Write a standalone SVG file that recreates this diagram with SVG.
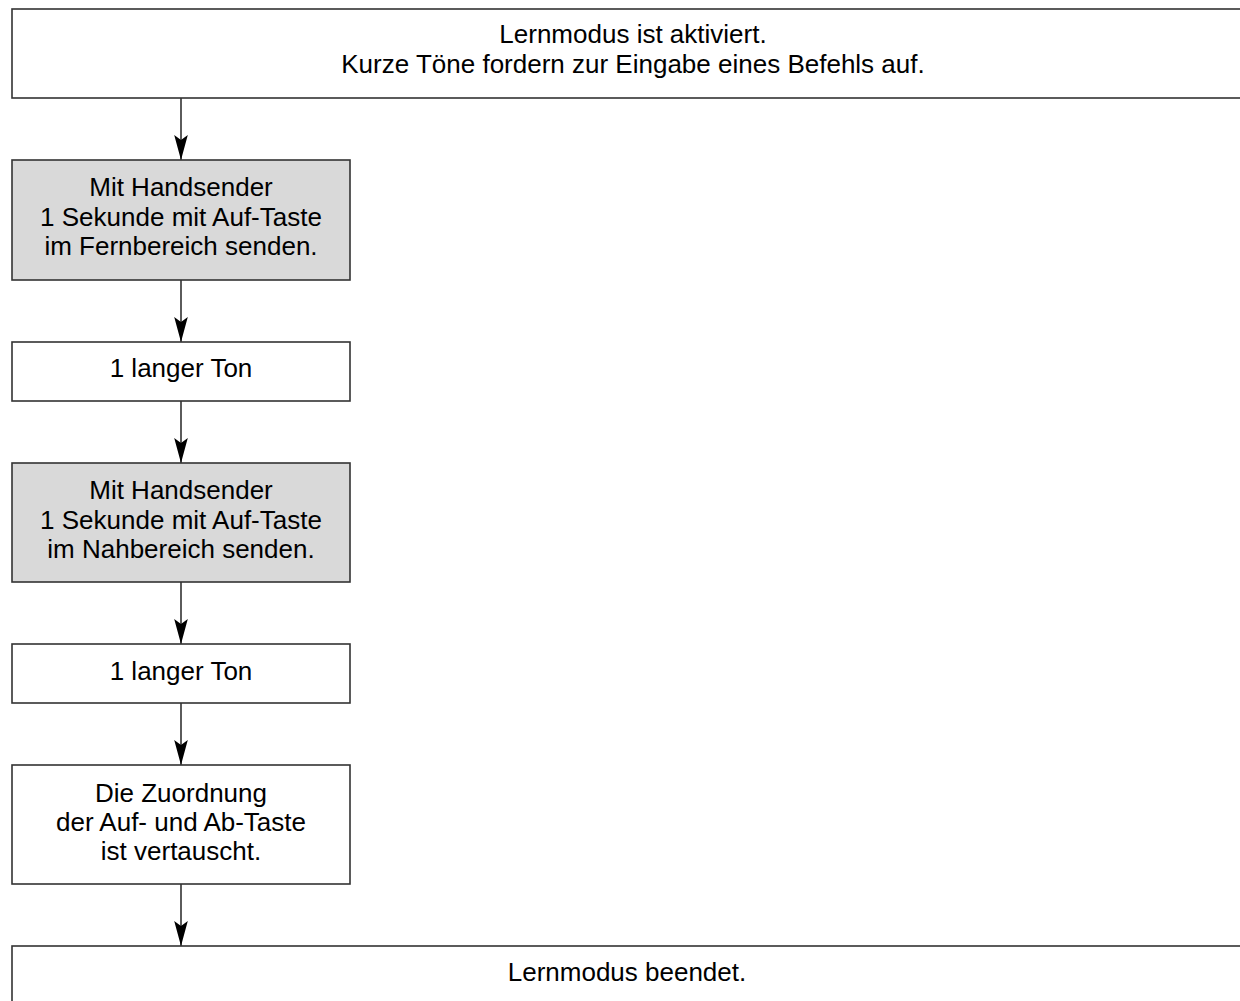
<svg xmlns="http://www.w3.org/2000/svg" width="1240" height="1001" viewBox="0 0 1240 1001">
<style>
.box{fill:#ffffff;stroke:#333333;stroke-width:1.6}
.gray{fill:#d9d9d9;stroke:#333333;stroke-width:1.6}
.t{font-family:"Liberation Sans",Arial,sans-serif;font-size:26px;fill:#000000;text-anchor:middle}
.c{stroke:#333333;stroke-width:1.6;fill:none;marker-end:url(#ah)}
</style>
<defs>
<marker id="ah" markerUnits="userSpaceOnUse" markerWidth="28" markerHeight="16" viewBox="-26 -8 28 16" refX="0" refY="0" orient="auto">
<path d="M0,0 L-25,-6.8 L-20,0 L-25,6.8 Z" fill="#000000"/>
</marker>
</defs>
<rect width="1240" height="1001" fill="#ffffff"/>
<g id="connectors">
<line class="c" x1="181" y1="98" x2="181" y2="160"/>
<line class="c" x1="181" y1="280" x2="181" y2="342"/>
<line class="c" x1="181" y1="401" x2="181" y2="463"/>
<line class="c" x1="181" y1="582" x2="181" y2="644"/>
<line class="c" x1="181" y1="703" x2="181" y2="765"/>
<line class="c" x1="181" y1="884" x2="181" y2="946"/>
</g>
<g id="start">
<rect class="box" x="12" y="9" width="1250" height="89"/>
<text class="t" x="633" y="43">Lernmodus ist aktiviert.</text>
<text class="t" x="633" y="73">Kurze Töne fordern zur Eingabe eines Befehls auf.</text>
</g>
<g id="step1">
<rect class="gray" x="12" y="160" width="338" height="120"/>
<text class="t" x="181" y="196">Mit Handsender</text>
<text class="t" x="181" y="226">1 Sekunde mit Auf-Taste</text>
<text class="t" x="181" y="255">im Fernbereich senden.</text>
</g>
<g id="tone1">
<rect class="box" x="12" y="342" width="338" height="59"/>
<text class="t" x="181" y="377">1 langer Ton</text>
</g>
<g id="step2">
<rect class="gray" x="12" y="463" width="338" height="119"/>
<text class="t" x="181" y="499">Mit Handsender</text>
<text class="t" x="181" y="529">1 Sekunde mit Auf-Taste</text>
<text class="t" x="181" y="558">im Nahbereich senden.</text>
</g>
<g id="tone2">
<rect class="box" x="12" y="644" width="338" height="59"/>
<text class="t" x="181" y="680">1 langer Ton</text>
</g>
<g id="result">
<rect class="box" x="12" y="765" width="338" height="119"/>
<text class="t" x="181" y="802">Die Zuordnung</text>
<text class="t" x="181" y="831">der Auf- und Ab-Taste</text>
<text class="t" x="181" y="860">ist vertauscht.</text>
</g>
<g id="end">
<rect class="box" x="12" y="946" width="1236" height="80"/>
<text class="t" x="627" y="981">Lernmodus beendet.</text>
</g>
</svg>
